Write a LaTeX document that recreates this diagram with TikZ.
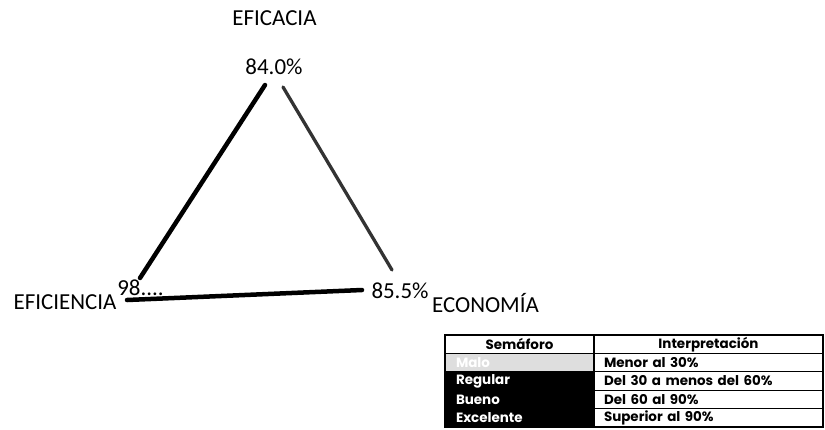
\documentclass[tikz,border=0pt]{standalone}
\usepackage{fontspec}
\setmainfont{Carlito}
\newfontfamily\tablafont{Poppins}
\definecolor{malofondo}{RGB}{222, 222, 222}
\usetikzlibrary{positioning}

\begin{document}
\begin{tikzpicture}[x=1bp, y=-1bp,
            etiqueta/.style={anchor=base, inner sep=0pt, font=\fontsize{23}{23}\selectfont},
            lado/.style={line width=4.5bp, line cap=round},
            celda/.style={
                rectangle, draw=black, line width=1.3bp,
                minimum height=18.4bp, inner ysep=0pt, outer sep=0pt,
                font=\tablafont\bfseries\fontsize{13.5}{13.5}\selectfont
            },
            semcelda/.style={celda, text width=127bp, inner xsep=11bp, align=left},
            intcelda/.style={celda, text width=209bp, inner xsep=10bp, align=left},
        ]
            \useasboundingbox (0,0) rectangle (825,429);

            \node [etiqueta] (eficacia)    at (274.5,25) {EFICACIA};
            \node [etiqueta] (v-eficacia)  at (274,74)   {84.0\%};
            \node [etiqueta] (v-eficiencia) at (140.5,295) {98....};
            \node [etiqueta] (v-economia)  at (400,298)  {85.5\%};
            \node [etiqueta] (eficiencia)  at (65,309)   {EFICIENCIA};
            \node [etiqueta] (economia)    at (485.5,312) {ECONOMÍA};

            \coordinate (izq-arriba)  at (265,85);
            \coordinate (izq-abajo)   at (140,278);
            \coordinate (der-arriba)  at (283,87);
            \coordinate (der-abajo)   at (392,270);
            \coordinate (base-izq)    at (127,300);
            \coordinate (base-der)    at (362,290);
            \draw[lado] (izq-arriba) -- (izq-abajo);
            \draw[lado, line width=3.3bp, black!80] (der-arriba) -- (der-abajo);
            \draw[lado] (base-izq) -- (base-der);

            \node [semcelda, align=center, anchor=north west] (sem-head) at (445,335) {Semáforo};
            \node [intcelda, align=center] (int-head) [ right= 0cm of sem-head ] {Interpretación};

            \node [semcelda, fill=malofondo, text=white] (sem-malo) [ below= 0cm of sem-head ] {Malo};
            \node [intcelda] (int-malo) [ right= 0cm of sem-malo ] {Menor al 30\%};

            \node [semcelda, fill=black, text=white] (sem-regular) [ below= 0cm of sem-malo ] {Regular};
            \node [intcelda] (int-regular) [ right= 0cm of sem-regular ] {Del 30 a menos del 60\%};

            \node [semcelda, fill=black, text=white] (sem-bueno) [ below= 0cm of sem-regular ] {Bueno};
            \node [intcelda] (int-bueno) [ right= 0cm of sem-bueno ] {Del 60 al 90\%};

            \node [semcelda, fill=black, text=white] (sem-excelente) [ below= 0cm of sem-bueno ] {Excelente};
            \node [intcelda] (int-excelente) [ right= 0cm of sem-excelente ] {Superior al 90\%};

        \end{tikzpicture}
\end{document}
